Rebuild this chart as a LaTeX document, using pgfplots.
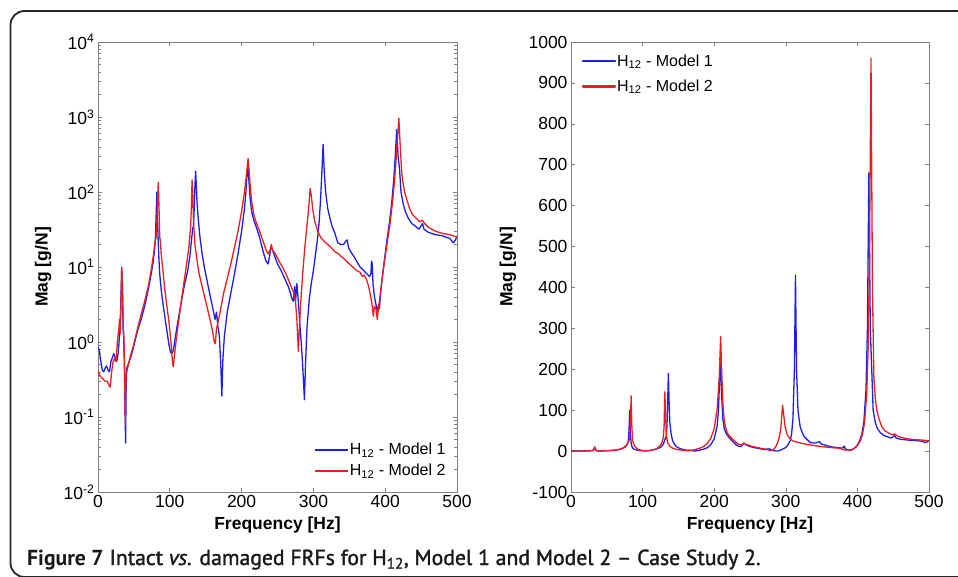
\documentclass[border=0pt]{standalone}
\usepackage{pgfplots}
\pgfplotsset{compat=1.18}
\usepackage{pgfplotstable}
\usepackage{fontspec}
\setmainfont{Liberation Sans}
\newfontfamily\capfont{PT Sans}
\newfontfamily\capsemi[FakeBold=1.5]{PT Sans}
\definecolor{mblue}{RGB}{30,30,235}
\definecolor{mred}{RGB}{235,30,30}

\pgfplotstableread{
f v
0 0.86
2 0.75
4 0.55
6 0.42
8 0.40
10 0.45
12 0.48
14 0.42
16 0.40
18 0.55
20 0.62
22 0.70
24 0.62
26 0.55
28 0.70
30 1.2
31 2.0
32 4.0
33 9.5
34 6.0
35 1.5
36 1.0
37 0.35
38 0.08
38.5 0.045
39 0.20
40 0.45
42 0.50
45 0.60
48 0.75
50 0.9
55 1.4
60 2.0
65 3.0
70 5.0
74 8.0
77 12
79 18
80 25
81 50
82 100
83 40
84 20
85 12
86 8
88 5
90 3.5
93 2.2
96 1.4
99 0.9
101 0.72
104 0.72
106 0.9
110 1.6
115 3.0
120 5.5
125 9
128 14
130 22
132 33
133 35
134 60
135 120
136 190
137 120
138 70
140 40
142 25
145 15
148 10
152 6.5
156 4.2
160 2.8
163 2.0
165 2.5
167 1.6
169 1.2
171 0.5
172.5 0.19
174 0.6
176 1.2
180 2.5
185 4.5
190 8
195 15
200 30
204 60
206 100
208 200
209 215
210 150
212 80
214 55
217 42
220 35
225 25
230 16
234 12
237 11
239 14
241 19
243 17
246 14
250 11
255 9
260 7
265 5.5
268 4.5
270 3.8
272 3.5
274 5.5
275 3.4
277 6
279 3.5
281 1.8
283 1.0
285 0.5
287.5 0.17
289 0.5
291 1.5
294 3.5
297 6
300 9
303 15
306 25
308 40
310 80
312 200
313.5 430
315 200
317 100
320 60
323 45
326 35
330 28
334 21
338 20
342 20
345 22
347 23
349 18
352 16
356 14
360 12
365 10
370 9
375 8
378 7.5
380 8
381 12
382 11
383 6
385 4
387 3.2
389 2.6
391 3.2
392 2.8
394 5
397 9
400 15
403 25
406 40
409 70
412 150
414 300
416 680
418 300
420 200
422 100
425 70
428 55
432 45
437 38
442 35
447 32
452 38
454 32
460 29
470 27
480 26
490 24
495 21
498 23
500 26
}\blue

\pgfplotstableread{
f v
0 0.41
3 0.35
6 0.33
10 0.30
13 0.30
15 0.27
17 0.25
19 0.40
21 0.55
23 0.60
25 0.55
27 1.0
29 1.5
30 2.0
31 1.3
32 3.0
33 10
34 6.0
35 2.0
36 1.2
37 0.5
38 0.08
38.5 0.2
39 0.35
40 0.40
42 0.48
45 0.65
48 0.8
50 0.95
55 1.5
60 2.3
65 3.5
70 5.5
74 9
77 14
79 20
81 25
82 40
83 80
84 135
85 60
86 25
87 22
88 15
90 10
93 5
96 3.0
99 1.8
102 0.9
104 0.5
105 0.47
106 0.6
108 0.9
112 1.8
116 3.5
120 6.5
124 12
127 20
129 35
130 60
131 145
132 100
133 40
135 20
138 12
141 8
145 5.5
150 3.5
155 2.2
159 1.5
162 1.0
163.5 0.95
165 1.5
167 1.8
170 2.5
175 4.5
180 7
185 11
190 18
195 30
200 55
204 100
207 180
209 280
210 220
212 120
214 75
217 50
220 40
225 30
230 22
234 17
237 15
240 17
241.5 20
243 17
247 15
252 12
257 10
262 8
266 6.5
270 5.2
273 4.5
275 3.5
277 2.0
279 0.75
280 1.2
282 3.0
285 8
288 18
291 35
293 55
295.5 112
297 90
299 60
302 40
306 30
310 25
315 22
320 20
325 18
330 16
335 15
338 14
342 13
346 12
350 11
355 10
360 9
365 8.5
368 7.5
371 7.8
374 6.8
377 5.5
380 4.0
382 3.0
383.5 2.2
385 3.0
387 2.8
389 2.0
390 2.5
392 3.5
395 6
398 10
401 16
404 25
407 40
410 70
413 140
415 250
417 500
419 960
421 400
423 180
425 130
427 100
430 80
434 60
438 50
443 45
448 40
452 42
455 38
460 34
470 30
480 28
490 27
500 25
}\red

\pgfplotsset{
  mystyle/.style={
    scale only axis, width=359pt, height=450pt,
    xmin=0, xmax=500, xtick={0,100,...,500},
    axis line style={gray}, tick style={gray, line width=0.6pt},
    major tick length=4pt, minor tick length=2.5pt,
    tick label style={font=\fontsize{17.5}{20}\selectfont, black},
    label style={font=\bfseries\fontsize{17.5}{20}\selectfont},
    /pgf/number format/assume math mode=true,
    xlabel={Frequency [Hz]}, ylabel={Mag [g/N]},
    x label style={at={(axis description cs:0.5,-0.073)}, anchor=center},
    legend cell align=left,
    legend style={draw=none, fill=none, inner sep=0pt, row sep=5pt,
      font=\fontsize{16}{19}\selectfont, nodes={inner sep=1.5pt}},
    every axis plot/.append style={line width=1.3pt, line join=round},
  }
}

\begin{document}
\begin{tikzpicture}
\useasboundingbox (0pt,0pt) rectangle (958pt,576pt);
\begin{scope}
\clip (0pt,0pt) rectangle (958pt,576pt);
\draw[line width=1.8pt, black!85, rounded corners=14pt] (10.5pt,-1pt) rectangle (990pt,565pt);
\end{scope}

\begin{axis}[mystyle, at={(98pt,84pt)}, anchor=south west,
  ymode=log, ymin=1e-2, ymax=1e4,
  ytick={1e-2,1e-1,1,10,100,1000,10000},
  yticklabels={10\textsuperscript{-2},10\textsuperscript{-1},10\textsuperscript{0},10\textsuperscript{1},10\textsuperscript{2},10\textsuperscript{3},10\textsuperscript{4}},
  y label style={at={(axis description cs:-0.153,0.5)}, anchor=center}]
\addplot[mblue] table[x=f,y=v]{\blue};
\addplot[mred] table[x=f,y=v]{\red};
\end{axis}

\begin{axis}[mystyle, at={(571pt,84pt)}, anchor=south west, width=358pt,
  ymin=-100, ymax=1000,
  ytick={-100,0,100,...,1000},
  yticklabels={-100,0,100,200,300,400,500,600,700,800,900,1000},
  y label style={at={(axis description cs:-0.176,0.5)}, anchor=center}]
\addplot[mblue] table[x=f,y=v]{\blue};
\addplot[mred] table[x=f,y=v]{\red};
\end{axis}

% legends (explicit colours)
\begin{axis}[mystyle, at={(98pt,84pt)}, anchor=south west, hide axis,
  ymode=log, ymin=1e-2, ymax=1e4, xlabel={}, ylabel={},
  legend style={at={(axis description cs:0.604,0.112)}, anchor=north west}]
\addlegendimage{legend image code/.code={\fill[mblue] (0pt,-0.6pt) rectangle (32pt,0.6pt);}}
\addlegendentry{H\textsubscript{12} - Model 1}
\addlegendimage{legend image code/.code={\fill[mred] (0pt,-0.6pt) rectangle (32pt,0.6pt);}}
\addlegendentry{H\textsubscript{12} - Model 2}
\end{axis}

\begin{axis}[mystyle, at={(571pt,84pt)}, anchor=south west, width=358pt, hide axis,
  ymin=-100, ymax=1000, xlabel={}, ylabel={},
  legend style={at={(axis description cs:0.031,0.9756)}, anchor=north west, row sep=9pt}]
\addlegendimage{legend image code/.code={\fill[mblue] (0pt,-0.6pt) rectangle (32pt,0.6pt);}}
\addlegendentry{H\textsubscript{12} - Model 1}
\addlegendimage{legend image code/.code={\fill[mred] (0pt,-0.6pt) rectangle (32pt,0.6pt);}}
\addlegendentry{H\textsubscript{12} - Model 2}
\end{axis}

\node[anchor=base west, inner sep=0pt, text=black!90] at (27pt,11pt)
  {\fontsize{21.7}{25}\selectfont\capfont\textbf{Figure 7} \capsemi Intact \textit{vs.} damaged FRFs for H\textsubscript{12}, Model 1 and Model 2 – Case Study 2.};
\end{tikzpicture}
\end{document}
